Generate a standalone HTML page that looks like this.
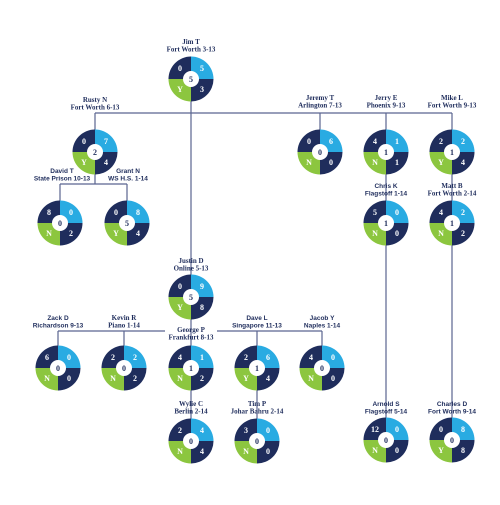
<!DOCTYPE html>
<html><head><meta charset="utf-8"><style>
body{margin:0;background:#fff}
svg text{font-family:"Liberation Serif",serif;font-weight:bold;fill:#1f2d5c}
svg text.sans{font-family:"Liberation Sans",sans-serif;font-weight:bold;font-size:6.5px}
</style></head><body>
<svg id="c" width="500" height="500" viewBox="0 0 500 500">
<g id="lines" stroke="#5a6590" stroke-width="1.2" fill="none">
<path d="M95 113H452M191 100V297M95 113V152M320 113V152M386 113V440M452 113V440M95 152V184M60 184H127M60 184V223M127 184V223"/>
<path d="M58 331H165M217 331H322M58 331V368M124 331V368M191 297V441M257 331V441M322 331V368"/>
</g>
<g id="nodes"></g>
</svg>
<script>
const names=["Jim T","Rusty N","David T","Grant N","Jeremy T","Jerry E","Mike L","Chris K","Matt B","Justin D","Zack D","Kevin R","George P","Dave L","Jacob Y","Wylie C","Tim P","Arnold S","Charles D"];
const subs=["Fort Worth 3-13","Fort Worth 6-13","State Prison 10-13","WS H.S. 1-14","Arlington 7-13","Phoenix 9-13","Fort Worth 9-13","Flagstoff 1-14","Fort Worth 2-14","Online 5-13","Richardson 9-13","Piano 1-14","Frankfurt 8-13","Singapore 11-13","Naples 1-14","Berlin 2-14","Johar Bahru 2-14","Flagstoff 5-14","Fort Worth 9-14"];
const topLeft=[0,0,8,0,0,4,2,5,4,0,6,2,4,2,4,2,3,12,0];
const topRight=[5,7,0,8,6,1,2,0,2,9,0,2,1,6,0,4,0,0,8];
const center=[5,2,0,5,0,1,1,1,1,5,0,0,1,1,0,0,0,0,0];
const letter=["Y","Y","N","Y","N","N","Y","N","N","Y","N","N","N","Y","N","N","N","N","Y"];
const botRight=[3,4,2,4,0,1,4,0,2,8,0,2,2,4,0,4,0,0,8];
const cx=[191,95,60,127,320,386,452,386,452,191,58,124,191,257,322,191,257,386,452];
const cy=[79,152,223,223,152,152,152,223,223,297,368,368,368,368,368,441,441,440,440];
const labelY=[44,102,173,173,100,100,100,188,188,263,320,320,332,320,320,406,406,406,406];
const labelX=[191,95,62,128,320,386,452,386,452,191,58,124,191,257,322,191,257,386,452];
const sansIdx=[2,3,7,10,13,14,17,18];
const NS="http://www.w3.org/2000/svg",g=document.getElementById('nodes');
function mk(t,a,p){const e=document.createElementNS(NS,t);for(const k in a)e.setAttribute(k,a[k]);p.appendChild(e);return e;}
const R=22.5,r=8;
const cols=["#1f2d5c","#29abe2","#1f2d5c","#8cc63f"];
names.forEach((n,i)=>{
 const grp=mk('g',{},g);
 
 
 const x=cx[i],y=cy[i];
 const angles=[[180,270],[270,360],[0,90],[90,180]];
 angles.forEach((a,j)=>{
  const a0=a[0]*Math.PI/180,a1=a[1]*Math.PI/180;
  const d=`M${x} ${y}L${x+R*Math.cos(a0)} ${y+R*Math.sin(a0)}A${R} ${R} 0 0 1 ${x+R*Math.cos(a1)} ${y+R*Math.sin(a1)}Z`;
  const p=mk('path',{d:d,fill:cols[j]},grp);
  
  
 });
 const c=mk('circle',{cx:x,cy:y,r:r,fill:'#fff'},grp);
 
 
 const vals=[[topLeft[i],x-11,y-8,'#fff'],[topRight[i],x+11,y-8,'#fff'],[botRight[i],x+11,y+13,'#fff'],[letter[i],x-11,y+13,'#fff'],[center[i],x,y+3,'#1f2d5c']];
 vals.forEach(v=>{const t=mk('text',{x:v[1],y:v[2],'text-anchor':'middle','font-size':'8'},grp);t.style.fill=v[3];t.textContent=v[0];
  
  });
 const cls=sansIdx.includes(i)?'sans':'';
 const t1=mk('text',{x:labelX[i],y:labelY[i],'text-anchor':'middle','font-size':'7',class:cls},grp);t1.textContent=n;
 
 
 const t2=mk('text',{x:labelX[i],y:labelY[i]+7.5,'text-anchor':'middle','font-size':'7',class:cls},grp);t2.textContent=subs[i];
 
 
});
</script>
</body></html>
